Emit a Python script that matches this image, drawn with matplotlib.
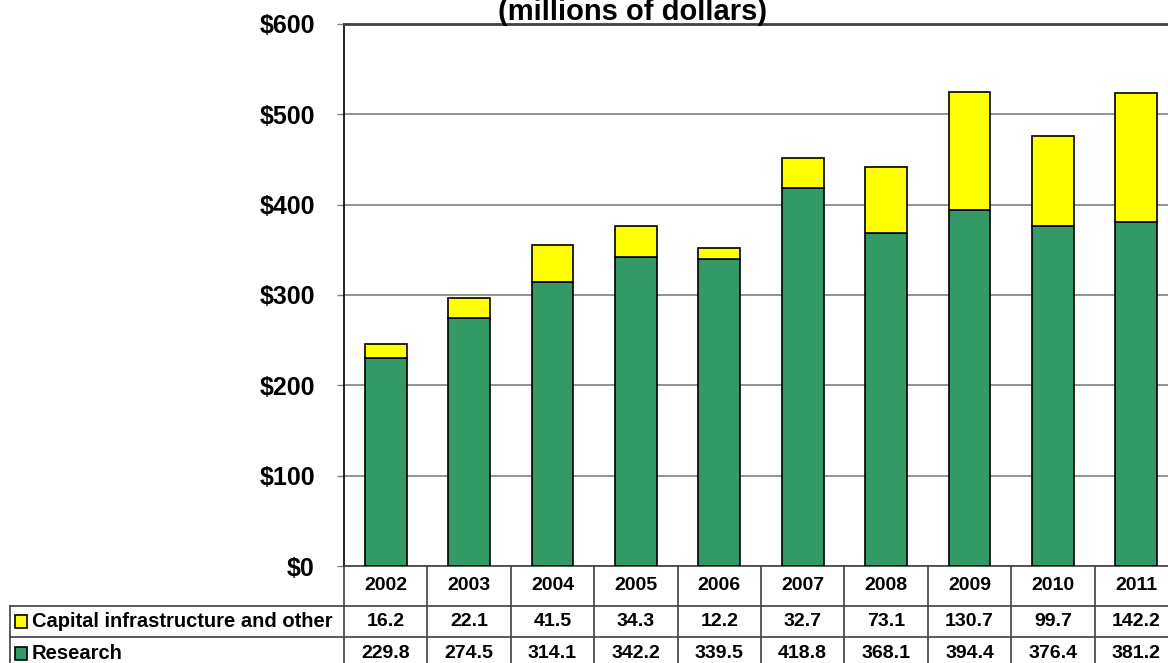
import matplotlib
matplotlib.use("Agg")
import matplotlib.pyplot as plt
from matplotlib.patches import Rectangle
from matplotlib.ticker import FuncFormatter

# Annual funding, millions of dollars
years = ["2002", "2003", "2004", "2005", "2006", "2007", "2008", "2009", "2010", "2011"]
research = [229.8, 274.5, 314.1, 342.2, 339.5, 418.8, 368.1, 394.4, 376.4, 381.2]
capital = [16.2, 22.1, 41.5, 34.3, 12.2, 32.7, 73.1, 130.7, 99.7, 142.2]
series_names = ["Capital infrastructure and other", "Research"]

green = "#339966"
yellow = "#FFFF00"
line_col = "#404040"

plt.rcParams["font.family"] = ["Liberation Sans", "DejaVu Sans"]
plt.rcParams["font.weight"] = "bold"

W, H = 1168, 663
fig = plt.figure(figsize=(W / 100, H / 100), dpi=100)

# plot area in pixels: x 344..1178, y 24..566 (from top)
ax = fig.add_axes([344 / W, (H - 566) / H, 834 / W, 542 / H])

x = list(range(len(years)))
ax.bar(x, research, width=0.5, color=green, edgecolor="black", linewidth=1.2, zorder=3)
ax.bar(x, capital, bottom=research, width=0.5, color=yellow, edgecolor="black",
       linewidth=1.2, zorder=3)

ax.set_xlim(-0.5, len(years) - 0.5)
ax.set_ylim(0, 600)
ax.set_yticks(range(0, 601, 100))
ax.yaxis.set_major_formatter(FuncFormatter(lambda v, p: f"${v:.0f}"))
ax.tick_params(axis="y", length=5, width=1, color="#808080", pad=16, labelsize=18)
ax.set_xticks([])
ax.yaxis.grid(True, color="#808080", linewidth=1.2, zorder=0)
ax.set_axisbelow(True)

ax.spines["right"].set_visible(False)
ax.spines["left"].set_color("black")
ax.spines["left"].set_linewidth(1.2)
ax.spines["top"].set_color(line_col)
ax.spines["top"].set_linewidth(2)
ax.spines["bottom"].set_color(line_col)
ax.spines["bottom"].set_linewidth(1.2)

fig.text(633 / W, (H - 20) / H, "(millions of dollars)", ha="center", va="baseline",
         fontsize=21, fontweight="bold")

# data table under the chart, in axes units
px = 1 / 542
row_edges = [0, -40 * px, -71 * px, -110 * px]
label_left = (10 - 344) / 834
xt = ax.get_xaxis_transform()
tbl = dict(transform=ax.transAxes, clip_on=False, color=line_col, linewidth=1.2)

# column separators
for i in range(len(years) + 1):
    ax.plot([i - 0.5, i - 0.5], [0, row_edges[-1]], transform=xt, clip_on=False,
            color=line_col, linewidth=1.2)
# row separators
for yy in row_edges[1:3]:
    ax.plot([label_left, 1.0], [yy, yy], **tbl)
ax.plot([label_left, label_left], [row_edges[1], row_edges[-1]], **tbl)

# header and values
row_mid = [(row_edges[k] + row_edges[k + 1]) / 2 for k in range(3)]
for i, yr in enumerate(years):
    ax.text(i, row_mid[0], yr, transform=xt, ha="center", va="center",
            fontsize=14, fontweight="bold", clip_on=False)
    ax.text(i, row_mid[1], f"{capital[i]:.1f}", transform=xt, ha="center", va="center",
            fontsize=14, fontweight="bold", clip_on=False)
    ax.text(i, row_mid[2] + 3 * px, f"{research[i]:.1f}", transform=xt, ha="center",
            va="center", fontsize=14, fontweight="bold", clip_on=False)

# row labels with legend keys
for k, (name, col) in enumerate(zip(series_names, [yellow, green])):
    yc = row_mid[k + 1] + (3 * px if k == 1 else 0)
    sq = 13 * px
    ax.add_patch(Rectangle(((15 - 344) / 834, yc - sq / 2), 12 / 834, sq,
                           transform=ax.transAxes, facecolor=col, edgecolor="black",
                           linewidth=1.2, clip_on=False))
    ax.text((32 - 344) / 834, yc, name, transform=ax.transAxes, ha="left", va="center",
            fontsize=14.5, fontweight="bold", clip_on=False)

fig.savefig("out.png", dpi=100)
